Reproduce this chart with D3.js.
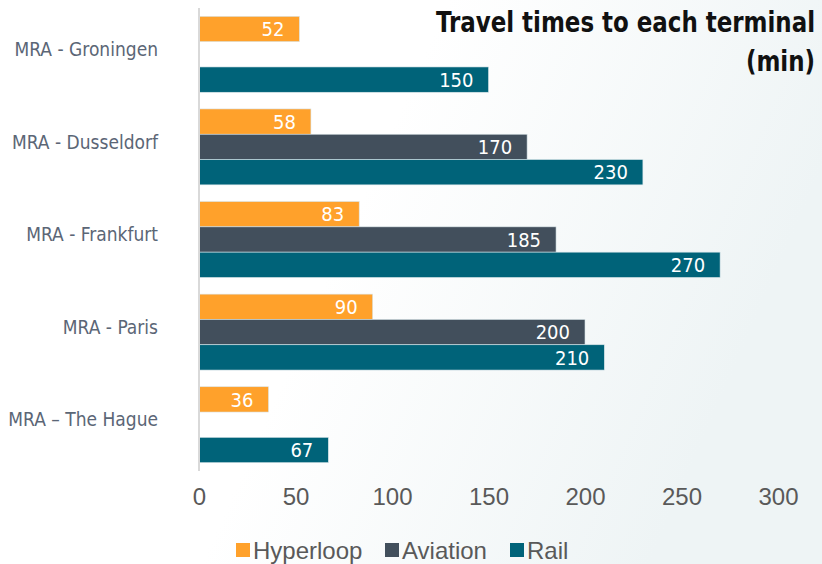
<!DOCTYPE html>
<html lang="en">
<head>
  <meta charset="UTF-8">
  <style>
    body { margin: 0; background: #fff; }
    svg { display: block; }
    .cat { font-family: "Liberation Sans Narrow", "DejaVu Sans Condensed", Roboto, sans-serif; font-size: 19px; fill: #5b6676; }
    .val { font-family: "Liberation Sans Narrow", "DejaVu Sans Condensed", Roboto, sans-serif; font-size: 20px; fill: #fff; text-anchor: end; }
    .tick text { font-family: "Liberation Sans", Arial, sans-serif; font-size: 24px; fill: #595959; }
    .legend text { font-family: "Liberation Sans", Arial, sans-serif; font-size: 24px; fill: #595959; }
    .title { font-family: "Liberation Sans Narrow", "DejaVu Sans Condensed", Roboto, sans-serif; font-weight: bold; font-size: 29px; fill: #111; text-anchor: end; }
  </style>
</head>
<body>
  <script src="https://d3js.org/d3.v7.min.js"></script>
  <svg></svg>
  <script>

// data
const categories = ["MRA - Groningen", "MRA - Dusseldorf", "MRA - Frankfurt", "MRA - Paris", "MRA \u2013 The Hague"];
const series = ["Hyperloop", "Aviation", "Rail"];
const hyperloop = [52, 58, 83, 90, 36];
const aviation = [null, 170, 185, 200, null];
const rail = [150, 230, 270, 210, 67];
const xTicks = [0, 50, 100, 150, 200, 250, 300];
const colors = ["#ffa12b", "#424f5c", "#006379"];

const w = 822, h = 564;
const plotLeft = 199, plotRight = 778;
const plotTop = 8, plotBottom = 471;

const svg = d3.select("svg").attr("width", w).attr("height", h);

// background gradient
const grad = svg.append("defs").append("linearGradient")
  .attr("id", "bg").attr("x1", "0%").attr("y1", "0%").attr("x2", "100%").attr("y2", "30%");
grad.append("stop").attr("offset", "50%").attr("stop-color", "#ffffff");
grad.append("stop").attr("offset", "100%").attr("stop-color", "#eef4f5");
svg.append("rect").attr("width", w).attr("height", h).attr("fill", "url(#bg)");

const x = d3.scaleLinear().domain([0, 300]).range([plotLeft, plotRight]);

const y = d3.scaleBand()
  .domain(categories)
  .range([plotTop, plotBottom])
  .paddingInner(0.18)
  .paddingOuter(0.09);

const yInner = d3.scaleBand()
  .domain(series)
  .range([0, y.bandwidth()]);

const table = categories.map((c, i) => ({
  cat: c,
  values: [hyperloop[i], aviation[i], rail[i]]
}));

// category labels
svg.append("g").selectAll("text")
  .data(categories)
  .enter().append("text")
  .attr("class", "cat")
  .attr("x", 158)
  .attr("y", d => y(d) + y.bandwidth() / 2 - 5)
  .attr("dy", "0.35em")
  .attr("text-anchor", "end")
  .text(d => d);

// bars
const groups = svg.append("g").selectAll("g")
  .data(table)
  .enter().append("g")
  .attr("transform", d => `translate(0,${y(d.cat)})`);

const cells = groups.selectAll("g")
  .data(d => d.values.map((v, j) => ({ s: series[j], v: v, j: j })).filter(e => e.v != null))
  .enter().append("g");

cells.append("rect")
  .attr("x", x(0))
  .attr("y", d => yInner(d.s))
  .attr("width", d => x(d.v) - x(0))
  .attr("height", yInner.bandwidth())
  .attr("fill", d => colors[d.j])
  .attr("stroke", "#d8e4e8")
  .attr("stroke-width", 0.6);

cells.append("text")
  .attr("class", "val")
  .attr("x", d => x(d.v) - 15)
  .attr("y", d => yInner(d.s) + yInner.bandwidth() / 2)
  .attr("dy", "0.36em")
  .text(d => d.v);

// vertical axis line
svg.append("line")
  .attr("x1", x(0)).attr("x2", x(0))
  .attr("y1", plotTop).attr("y2", plotBottom)
  .attr("stroke", "#d9d9d9").attr("stroke-width", 2);

// x axis (labels only)
const xAxis = svg.append("g")
  .attr("transform", `translate(0,${plotBottom})`)
  .call(d3.axisBottom(x).tickValues(xTicks).tickSize(0).tickPadding(17));
xAxis.select(".domain").remove();

// title (squeezed horizontally to mimic the condensed face)
const title = svg.append("g").attr("transform", "translate(815,0) scale(0.88,1)");
title.append("text").attr("class", "title").attr("x", 0).attr("y", 32).text("Travel times to each terminal");
title.append("text").attr("class", "title").attr("x", 0).attr("y", 71).text("(min)");

// legend
const legendX = [236, 385, 510];
const legend = svg.append("g").attr("class", "legend")
  .selectAll("g")
  .data(series)
  .enter().append("g")
  .attr("transform", (d, i) => `translate(${legendX[i]},543)`);
legend.append("rect").attr("width", 14).attr("height", 14).attr("fill", (d, i) => colors[i]);
legend.append("text").attr("x", 17).attr("y", 7).attr("dy", "0.36em").text(d => d);

  </script>
</body>
</html>
